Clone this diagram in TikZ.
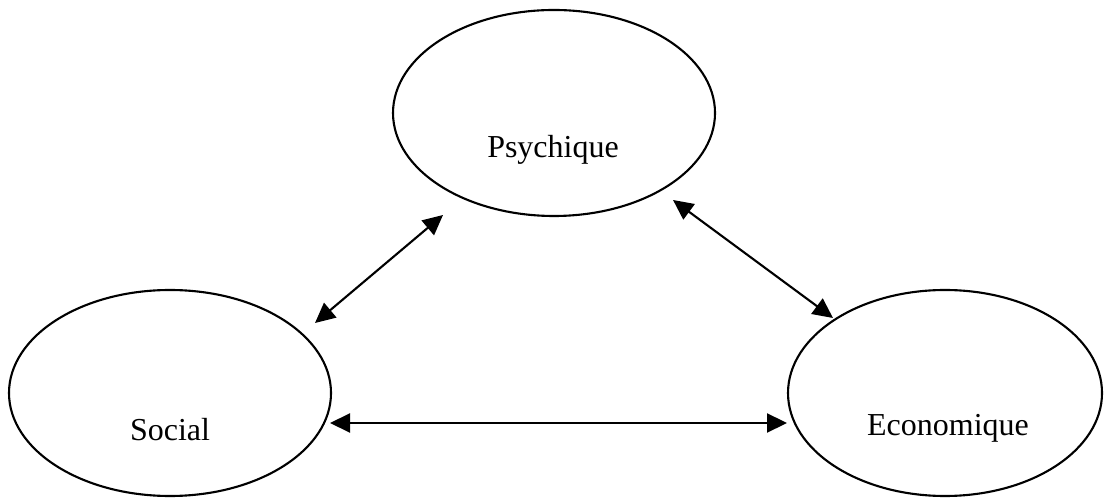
\documentclass[tikz,border=0pt]{standalone}
\usepackage{fontspec}
\setmainfont{Liberation Serif}
\usepackage{tikz}
\usetikzlibrary{shapes,arrows.meta}

\tikzset{
	pole/.style={ellipse,draw=black,line width=0.6pt,minimum width=3.22cm,minimum height=2.06cm,inner sep=0pt},
	poletext/.style={font=\fontsize{9.1}{11}\selectfont},
	lien/.style={line width=0.6pt,{Triangle[length=2mm,width=1.9mm]}-{Triangle[length=2mm,width=1.9mm]}}
}

\begin{document}
\begin{tikzpicture}
		\useasboundingbox (0,0) rectangle (11.04,4.97);

		\node[pole] (psy) at (5.54,3.84) {};
		\node[pole] (soc) at (1.70,1.04) {};
		\node[pole,minimum width=3.14cm] (eco) at (9.45,1.04) {};

		\node[poletext] (psyt) at (5.53,3.47) {Psychique};
		\node[poletext] (soct) at (1.70,0.67) {Social};
		\node[poletext] (ecot) at (9.48,0.69) {Economique};

		\coordinate (a1) at (3.15,1.74);
		\coordinate (b1) at (4.43,2.82);
		\coordinate (a2) at (6.73,2.97);
		\coordinate (b2) at (8.33,1.79);
		\coordinate (a3) at (3.30,0.74);
		\coordinate (b3) at (7.87,0.74);

		\foreach \i in {1, 2, 3}
			\draw[lien] (a\i) -- (b\i);
	\end{tikzpicture}
\end{document}
